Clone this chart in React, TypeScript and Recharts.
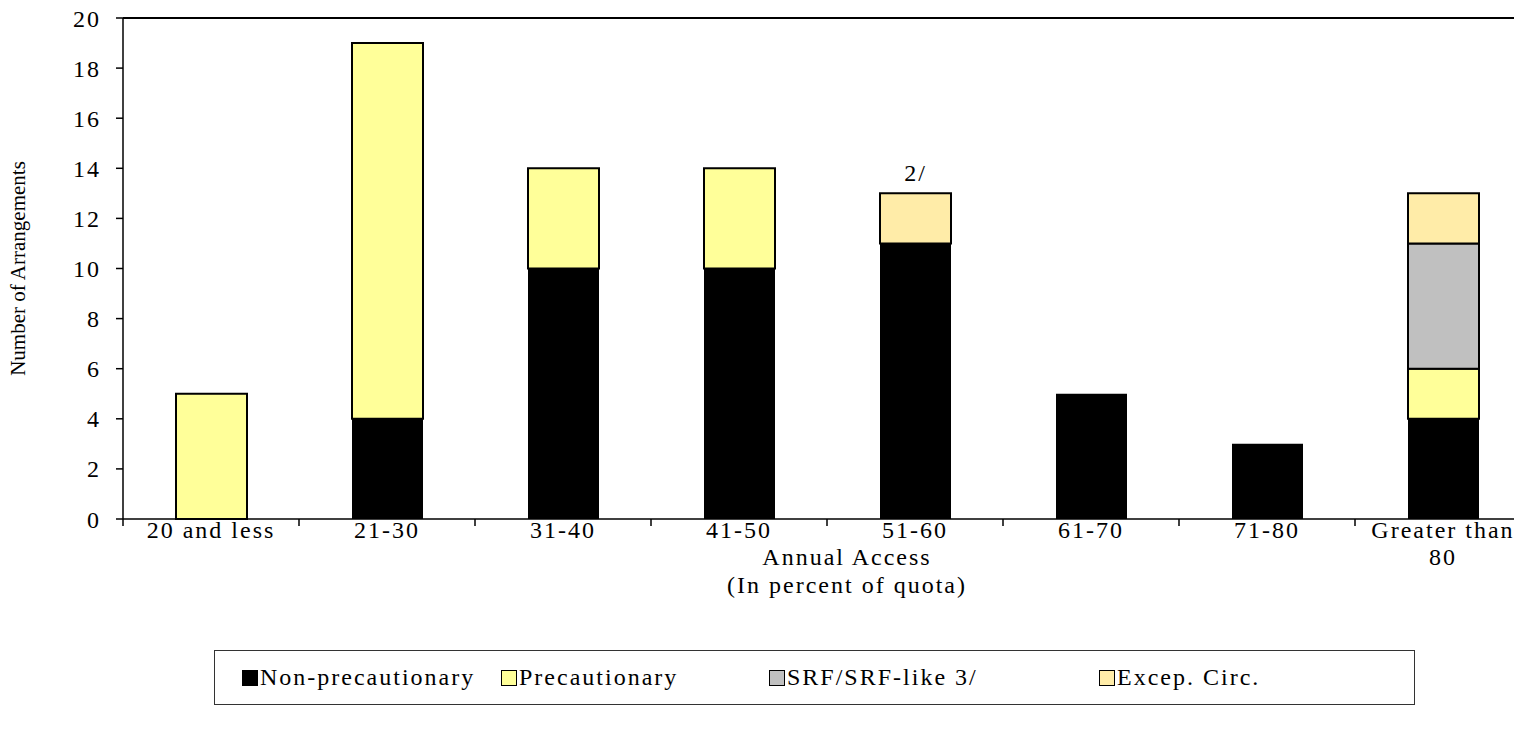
import React from 'react';
import { BarChart, Bar, XAxis, YAxis, ReferenceLine, Legend, LabelList, Label } from 'recharts';

// bins of annual access (percent of quota)
const categories = ['20 and less', '21-30', '31-40', '41-50', '51-60', '61-70', '71-80', 'Greater than\n80'];

// number of arrangements per bin, by type
const nonPrecautionary = [0, 4, 10, 10, 11, 5, 3, 4];
const precautionary = [5, 15, 4, 4, 0, 0, 0, 2];
const srfLike = [0, 0, 0, 0, 0, 0, 0, 5];
const excepCirc = [0, 0, 0, 0, 2, 0, 0, 2];
const footnotes = ['', '', '', '', '2/', '', '', ''];

const yTicks = [0, 2, 4, 6, 8, 10, 12, 14, 16, 18, 20];

const seriesNames = ['Non-precautionary', 'Precautionary', 'SRF/SRF-like 3/', 'Excep. Circ.'];
const seriesColors = ['#000000', '#FFFF99', '#C0C0C0', '#FFECA8'];

const data = categories.map((name, i) => ({
  name,
  np: nonPrecautionary[i],
  p: precautionary[i],
  srf: srfLike[i],
  ec: excepCirc[i],
  note: footnotes[i],
}));

const FONT = "'Liberation Serif', 'Times New Roman', serif";

const CategoryTick = (props: any) => {
  const { x, y, payload } = props;
  const half = payload && payload.offset ? payload.offset : 88;
  const lines = String(payload.value).split('\n');
  return (
    <g>
      <line x1={x - half} x2={x - half} y1={y} y2={y + 7} stroke="#000" strokeWidth={1.5} />
      <text x={x} y={y + 19} textAnchor="middle" fontFamily={FONT} fontSize={24} letterSpacing={2} fill="#000">
        {lines.map((l, i) => (
          <tspan key={i} x={x} dy={i === 0 ? 0 : 27}>
            {l}
          </tspan>
        ))}
      </text>
    </g>
  );
};

const XTitle = (props: any) => {
  const vb = props.viewBox;
  const cx = vb.x + vb.width / 2 + 20;
  return (
    <text x={cx} y={vb.y + 46} textAnchor="middle" fontFamily={FONT} fontSize={24} letterSpacing={2} fill="#000">
      <tspan x={cx}>Annual Access</tspan>
      <tspan x={cx} dy={28}>(In percent of quota)</tspan>
    </text>
  );
};

const YTitle = (props: any) => {
  const vb = props.viewBox;
  const cy = vb.y + vb.height / 2;
  return (
    <text
      transform={`translate(18, ${cy}) rotate(-90)`}
      textAnchor="middle"
      dominantBaseline="central"
      fontFamily={FONT}
      fontSize={21}
      fill="#000"
    >
      Number of Arrangements
    </text>
  );
};

// left edge of each legend entry inside the box
const legendX = [27, 286, 554, 884];

const LegendBox = () => (
  <div
    style={{
      position: 'relative',
      width: 1201,
      height: 55,
      border: '1.5px solid #333',
      boxSizing: 'border-box',
      background: '#fff',
      fontFamily: FONT,
      fontSize: 24,
      letterSpacing: 2,
      color: '#000',
    }}
  >
    {seriesNames.map((name, i) => (
      <div
        key={name}
        style={{ position: 'absolute', left: legendX[i], top: 0, height: '100%', display: 'flex', alignItems: 'center' }}
      >
        <span
          style={{
            display: 'inline-block',
            width: 14,
            height: 14,
            background: seriesColors[i],
            border: '1.5px solid #000',
            marginRight: 2,
          }}
        />
        <span>{name}</span>
      </div>
    ))}
  </div>
);

export default function App() {
  return (
    <div style={{ position: 'fixed', left: 0, top: 0, width: 1514, height: 752, overflow: 'hidden', background: '#fff' }}>
      <BarChart width={1531} height={752} data={data} margin={{ top: 18, right: 0, left: 0, bottom: 0 }} barSize={71}>
        <XAxis
          dataKey="name"
          interval={0}
          height={233}
          tickSize={0}
          tickMargin={0}
          tickLine={false}
          axisLine={{ stroke: '#000', strokeWidth: 1.5 }}
          tick={<CategoryTick />}
        >
          <Label content={<XTitle />} />
        </XAxis>
        <YAxis
          width={123}
          domain={[0, 20]}
          ticks={yTicks}
          interval={0}
          tickSize={7}
          tickMargin={15}
          tickLine={{ stroke: '#000', strokeWidth: 1.5 }}
          axisLine={{ stroke: '#000', strokeWidth: 1.5 }}
          tick={{ fontSize: 24, fontFamily: FONT, fill: '#000', letterSpacing: 2 }}
        >
          <Label content={<YTitle />} />
        </YAxis>
        <ReferenceLine y={20} stroke="#000" strokeWidth={2} />
        <Bar dataKey="np" name={seriesNames[0]} stackId="a" fill={seriesColors[0]} isAnimationActive={false} />
        <Bar dataKey="p" name={seriesNames[1]} stackId="a" fill={seriesColors[1]} stroke="#000" strokeWidth={2} isAnimationActive={false} />
        <Bar dataKey="srf" name={seriesNames[2]} stackId="a" fill={seriesColors[2]} stroke="#000" strokeWidth={2} isAnimationActive={false} />
        <Bar dataKey="ec" name={seriesNames[3]} stackId="a" fill={seriesColors[3]} stroke="#000" strokeWidth={2} isAnimationActive={false}>
          <LabelList dataKey="note" position="top" offset={12} fontFamily={FONT} fontSize={24} letterSpacing={2} fill="#000" />
        </Bar>
        <Legend
          layout="vertical"
          align="center"
          verticalAlign="middle"
          content={<LegendBox />}
          wrapperStyle={{ position: 'absolute', left: 214, top: 650, width: 1201, height: 55 }}
        />
      </BarChart>
    </div>
  );
}
